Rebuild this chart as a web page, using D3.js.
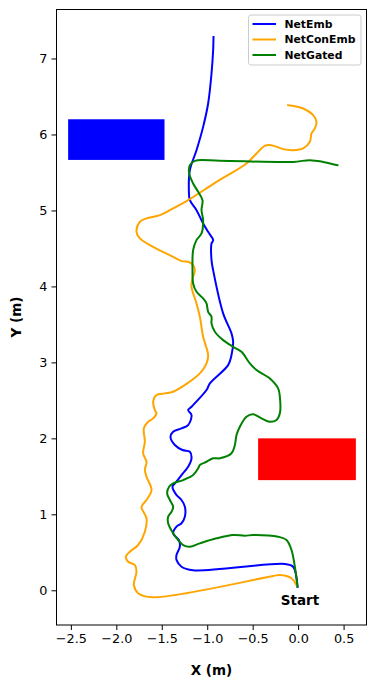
<!DOCTYPE html>
<html>
<head>
<meta charset="utf-8">
<script src="https://cdn.jsdelivr.net/npm/d3@7"></script>
<style>
  body { margin: 0; background: #fff; }
  text { font-family: "DejaVu Sans", sans-serif; fill: #000; }
</style>
</head>
<body>
<div id="chart"></div>
<script>
// trajectories, [x, y] in metres
const netEmb = [
  [-0.007, 0.047], [-0.055, 0.31], [-0.146, 0.346], [-1.155, 0.263], [-1.283, 0.31],
  [-1.338, 0.40], [-1.338, 0.464], [-1.301, 0.574], [-1.312, 0.662], [-1.375, 0.75],
  [-1.338, 0.837], [-1.283, 0.882], [-1.246, 0.968], [-1.246, 1.10], [-1.283, 1.188],
  [-1.338, 1.254], [-1.382, 1.363], [-1.338, 1.429], [-1.283, 1.517], [-1.21, 1.626],
  [-1.173, 1.737], [-1.191, 1.824], [-1.272, 1.846], [-1.356, 1.912], [-1.404, 2.021],
  [-1.375, 2.087], [-1.283, 2.132], [-1.21, 2.175], [-1.173, 2.307], [-1.21, 2.372],
  [-1.173, 2.416], [-1.008, 2.636], [-0.971, 2.724], [-0.77, 2.964], [-0.733, 3.096],
  [-0.715, 3.271], [-0.733, 3.382], [-0.825, 3.645], [-0.935, 4.214], [-0.953, 4.35],
  [-0.953, 4.566], [-0.935, 4.609], [-0.99, 4.718], [-1.045, 4.829], [-1.118, 5.004],
  [-1.191, 5.135], [-1.202, 5.267], [-1.191, 5.53], [-1.118, 5.793], [-1.045, 6.1],
  [-0.99, 6.408], [-0.953, 6.80], [-0.935, 7.109], [-0.931, 7.284]
];

const netConEmb = [
  [-0.018, 0.07], [-0.073, 0.158], [-0.201, 0.201], [-0.275, 0.188], [-1.595, -0.092],
  [-1.76, -0.039], [-1.807, 0.07], [-1.778, 0.245], [-1.797, 0.333], [-1.87, 0.376],
  [-1.895, 0.442], [-1.852, 0.508], [-1.76, 0.596], [-1.686, 0.771], [-1.668, 0.947],
  [-1.723, 1.10], [-1.668, 1.188], [-1.613, 1.32], [-1.668, 1.495], [-1.686, 1.583],
  [-1.668, 1.692], [-1.705, 1.803], [-1.686, 1.955], [-1.697, 2.132], [-1.65, 2.218],
  [-1.595, 2.263], [-1.558, 2.329], [-1.576, 2.372], [-1.595, 2.482], [-1.558, 2.57],
  [-1.466, 2.592], [-1.375, 2.613], [-1.081, 2.855], [-1.008, 2.987], [-0.99, 3.096],
  [-1.045, 3.337], [-1.081, 3.6], [-1.118, 3.776], [-1.173, 3.995], [-1.166, 4.083],
  [-1.136, 4.214], [-1.155, 4.28], [-1.21, 4.324], [-1.283, 4.333], [-1.375, 4.389],
  [-1.595, 4.521], [-1.741, 4.632], [-1.778, 4.718], [-1.741, 4.85], [-1.668, 4.895],
  [-1.521, 4.938], [-1.375, 5.026], [-1.21, 5.135], [-0.898, 5.376], [-0.568, 5.618],
  [-0.458, 5.75], [-0.366, 5.85], [-0.293, 5.859], [-0.165, 5.807], [-0.055, 5.793],
  [0.055, 5.816], [0.129, 5.903], [0.147, 6.013], [0.184, 6.079], [0.202, 6.166],
  [0.165, 6.254], [0.055, 6.342], [-0.036, 6.372], [-0.11, 6.386]
];

const netGated = [
  [-0.007, 0.047], [-0.036, 0.31], [-0.073, 0.53], [-0.128, 0.662], [-0.22, 0.705],
  [-0.495, 0.728], [-0.586, 0.718], [-0.715, 0.728], [-0.898, 0.684], [-1.081, 0.618],
  [-1.191, 0.574], [-1.265, 0.596], [-1.32, 0.662], [-1.375, 0.75], [-1.43, 0.882],
  [-1.43, 0.968], [-1.393, 1.034], [-1.375, 1.10], [-1.411, 1.188], [-1.441, 1.276],
  [-1.419, 1.363], [-1.375, 1.408], [-1.265, 1.451], [-1.155, 1.517], [-1.1, 1.605],
  [-1.081, 1.649], [-1.008, 1.692], [-0.935, 1.737], [-0.861, 1.737], [-0.733, 1.803],
  [-0.696, 1.912], [-0.678, 2.043], [-0.641, 2.153], [-0.568, 2.284], [-0.495, 2.316],
  [-0.403, 2.263], [-0.311, 2.218], [-0.238, 2.241], [-0.201, 2.329], [-0.201, 2.547],
  [-0.22, 2.658], [-0.311, 2.789], [-0.458, 2.899], [-0.531, 2.987], [-0.623, 3.139],
  [-0.715, 3.205], [-0.825, 3.293], [-0.916, 3.403], [-0.953, 3.513], [-0.953, 3.6],
  [-0.99, 3.666], [-1.008, 3.776], [-1.045, 3.842], [-1.118, 3.929], [-1.155, 4.039],
  [-1.162, 4.214], [-1.155, 4.478], [-1.118, 4.609], [-1.063, 4.697], [-1.045, 4.872],
  [-1.063, 5.004], [-1.052, 5.135], [-1.1, 5.245], [-1.155, 5.355], [-1.199, 5.487],
  [-1.191, 5.596], [-1.136, 5.653], [-0.861, 5.653], [-0.055, 5.639], [0.129, 5.662],
  [0.275, 5.639], [0.433, 5.596]
];

const seriesNames = ["NetEmb", "NetConEmb", "NetGated"];
const seriesColors = ["blue", "orange", "green"];

// obstacles: [x0, x1, y0, y1]
const obstacleBoxes = [[-2.53, -1.47, 5.665, 6.2], [-0.44, 0.635, 1.45, 2.0]];
const obstacleColors = ["blue", "red"];

const xTicks = [-2.5, -2.0, -1.5, -1.0, -0.5, 0.0, 0.5];
const yTicks = [0, 1, 2, 3, 4, 5, 6, 7];

const margin = {top: 9.5, right: 9.5, bottom: 62, left: 56.5};
const W = 376, H = 687;
const width = W - margin.left - margin.right,
      height = H - margin.top - margin.bottom;

const svg = d3.select("#chart").append("svg")
    .attr("width", W)
    .attr("height", H)
  .append("g")
    .attr("transform", "translate(" + margin.left + "," + margin.top + ")");

const x = d3.scaleLinear().domain([-2.658, 0.752]).range([0, width]);
const y = d3.scaleLinear().domain([-0.457, 7.645]).range([height, 0]);

// obstacles
svg.selectAll(".obstacle")
  .data(obstacleBoxes)
  .enter().append("rect")
    .attr("class", "obstacle")
    .attr("x", d => x(d[0]))
    .attr("y", d => y(d[3]))
    .attr("width", d => x(d[1]) - x(d[0]))
    .attr("height", d => y(d[2]) - y(d[3]))
    .attr("fill", (d, i) => obstacleColors[i]);

const line = d3.line()
    .x(d => x(d[0]))
    .y(d => y(d[1]))
    .curve(d3.curveCatmullRom.alpha(0.5));

[netEmb, netConEmb, netGated].forEach((data, i) => {
  svg.append("path")
    .datum(data)
    .attr("fill", "none")
    .attr("stroke", seriesColors[i])
    .attr("stroke-width", 2)
    .attr("stroke-linejoin", "round")
    .attr("stroke-linecap", "square")
    .attr("d", line);
});

svg.append("text")
    .attr("x", x(0.02))
    .attr("y", y(-0.193))
    .attr("text-anchor", "middle")
    .attr("font-weight", "bold")
    .attr("font-size", 13.5)
    .text("Start");

// axes
const xAxis = d3.axisBottom(x).tickValues(xTicks).tickSize(5).tickPadding(4)
    .tickFormat(d => d3.format(".1f")(d).replace("-", "\u2212"));
const yAxis = d3.axisLeft(y).tickValues(yTicks).tickSize(5).tickPadding(4)
    .tickFormat(d3.format("d"));

const gx = svg.append("g")
    .attr("transform", `translate(0, ${height})`)
    .call(xAxis);
const gy = svg.append("g").call(yAxis);

[gx, gy].forEach(g => {
  g.select(".domain").remove();
  g.selectAll(".tick line").attr("stroke", "#000").attr("stroke-width", 1);
  g.selectAll(".tick text")
    .attr("font-family", "DejaVu Sans")
    .attr("font-size", 12.8)
    .attr("fill", "#000");
});

svg.append("rect")
    .attr("width", width)
    .attr("height", height)
    .attr("fill", "none")
    .attr("stroke", "#000")
    .attr("stroke-width", 1);

svg.append("text")
    .attr("x", width / 2)
    .attr("y", height + 50)
    .attr("text-anchor", "middle")
    .attr("font-weight", "bold")
    .attr("font-size", 13.5)
    .text("X (m)");

svg.append("text")
    .attr("transform", "rotate(-90)")
    .attr("x", -(317 - margin.top))
    .attr("y", -35.5)
    .attr("text-anchor", "middle")
    .attr("font-weight", "bold")
    .attr("font-size", 13.5)
    .text("Y (m)");

// legend
const legend = svg.append("g")
    .attr("transform", `translate(${248.5 - margin.left}, ${15 - margin.top})`);

legend.append("rect")
    .attr("width", 112.5)
    .attr("height", 50)
    .attr("rx", 2.5)
    .attr("fill", "#fff")
    .attr("fill-opacity", 0.8)
    .attr("stroke", "#ccc")
    .attr("stroke-width", 1);

seriesNames.forEach((name, i) => {
  const row = legend.append("g")
      .attr("transform", `translate(0, ${9 + i * 15.5})`);
  row.append("line")
      .attr("x1", 4).attr("x2", 27.5)
      .attr("stroke", seriesColors[i])
      .attr("stroke-width", 2);
  row.append("text")
      .attr("x", 36)
      .attr("dy", "0.35em")
      .attr("font-weight", "bold")
      .attr("font-size", 10.8)
      .text(name);
});
</script>
</body>
</html>
